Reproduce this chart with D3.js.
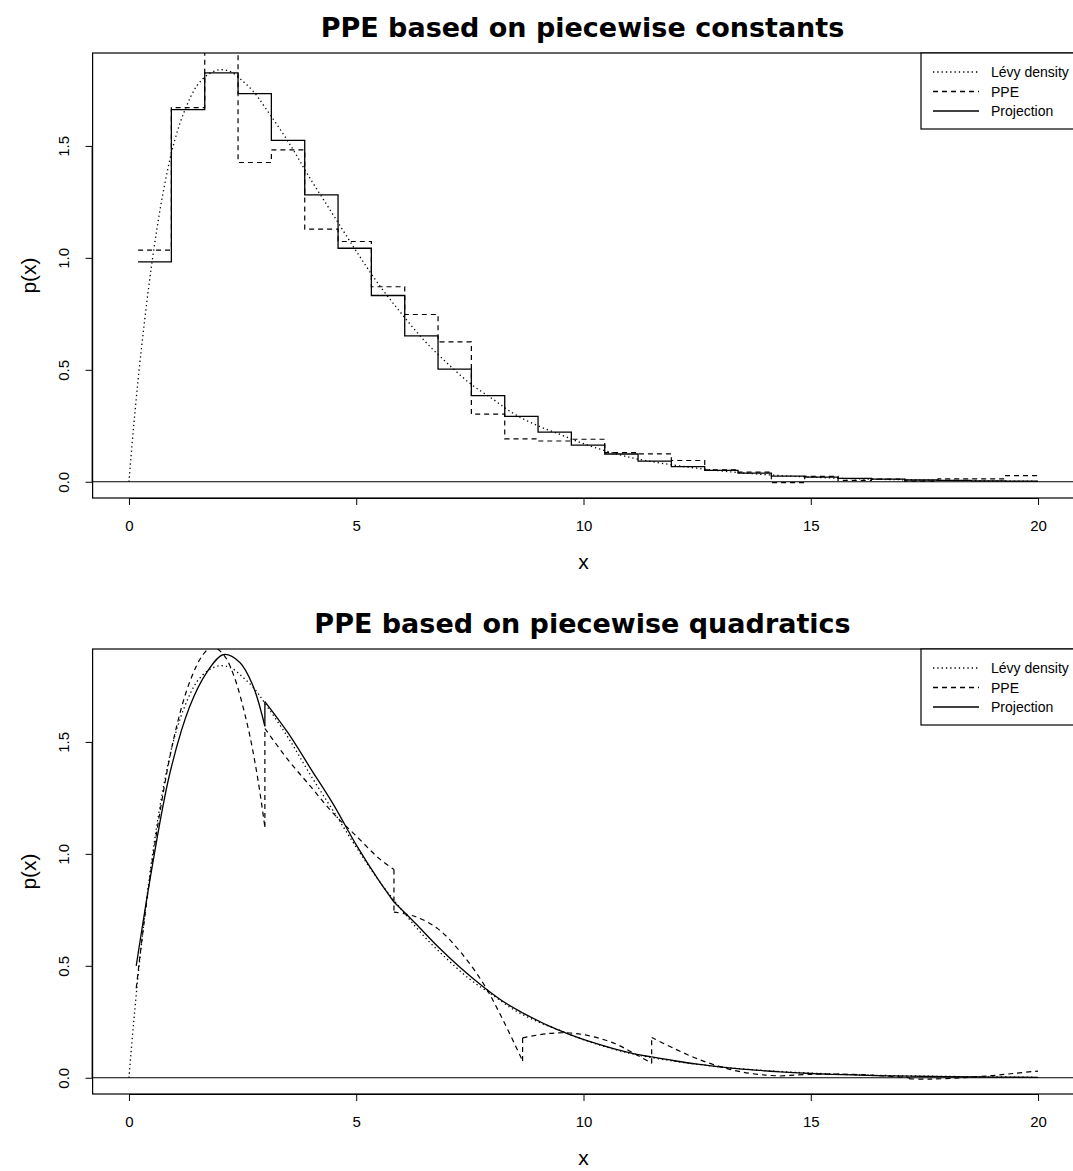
<!DOCTYPE html>
<html><head><meta charset="utf-8">
<script src="https://cdn.jsdelivr.net/npm/d3@7"></script>
<style>body{margin:0;background:#fff}svg{display:block}</style>
</head><body>
<script>
// ---------- data ----------
const xTicks = [0, 5, 10, 15, 20];
const yTicks = [0, 0.5, 1.0, 1.5];
const yTickLabels = ["0.0", "0.5", "1.0", "1.5"];
const legendLabels = ["Lévy density", "PPE", "Projection"];
const titles = ["PPE based on piecewise constants", "PPE based on piecewise quadratics"];

// Lévy density (dotted)
const levyX = [0, 0.1, 0.25, 0.5, 0.75, 1, 1.25, 1.5, 1.75, 2, 2.25, 2.5, 2.75, 3, 3.5, 4, 4.5, 5, 5.5, 6, 6.5, 7, 7.5, 8, 8.5, 9, 9.5, 10, 11, 12, 13, 14, 15, 16, 17, 18, 19, 20];
const levyY = [0, 0.24, 0.55, 0.97, 1.29, 1.52, 1.67, 1.77, 1.82, 1.84, 1.83, 1.79, 1.74, 1.67, 1.52, 1.35, 1.19, 1.03, 0.88, 0.75, 0.63, 0.53, 0.44, 0.37, 0.30, 0.25, 0.21, 0.17, 0.11, 0.074, 0.049, 0.032, 0.021, 0.013, 0.009, 0.006, 0.004, 0.002];

// piecewise constants (top panel)
const binEdges = [0.2, 0.933, 1.667, 2.4, 3.133, 3.867, 4.6, 5.333, 6.067, 6.8, 7.533, 8.267, 9.0, 9.733, 10.467, 11.2, 11.933, 12.667, 13.4, 14.133, 14.867, 15.6, 16.333, 17.067, 17.8, 18.533, 19.267, 20];
const constProjection = [0.982, 1.662, 1.826, 1.734, 1.525, 1.281, 1.043, 0.832, 0.652, 0.503, 0.385, 0.292, 0.222, 0.164, 0.124, 0.092, 0.068, 0.051, 0.039, 0.025, 0.021, 0.015, 0.012, 0.008, 0.006, 0.004, 0.003];
const constPPE = [1.035, 1.671, 1.97, 1.426, 1.482, 1.128, 1.073, 0.871, 0.747, 0.625, 0.302, 0.192, 0.182, 0.19, 0.13, 0.125, 0.095, 0.053, 0.043, -0.004, 0.024, 0.006, 0.012, 0.003, 0.013, 0.013, 0.027];

// piecewise quadratics (bottom panel), one array per piece
const quadProjX = [
  [0.16, 0.5, 0.9, 1.34, 1.71, 2.08, 2.44, 2.73, 2.99],
  [2.99, 3.5, 4.0, 4.5, 5.0, 5.5, 5.83],
  [5.83, 6.3, 6.8, 7.3, 7.8, 8.2, 8.66],
  [8.66, 9.2, 9.7, 10.2, 10.7, 11.1, 11.5],
  [11.5, 12.0, 12.5, 13.0, 13.5, 14.0, 14.33],
  [14.33, 15.0, 15.7, 16.4, 17.17],
  [17.17, 18.0, 19.0, 20.0]
];
const quadProjY = [
  [0.5, 0.93, 1.36, 1.66, 1.81, 1.89, 1.855, 1.75, 1.57],
  [1.68, 1.54, 1.38, 1.22, 1.04, 0.88, 0.785],
  [0.785, 0.69, 0.585, 0.49, 0.405, 0.345, 0.29],
  [0.29, 0.235, 0.193, 0.158, 0.128, 0.108, 0.093],
  [0.093, 0.076, 0.061, 0.049, 0.039, 0.031, 0.026],
  [0.026, 0.019, 0.014, 0.010, 0.007],
  [0.007, 0.005, 0.003, 0.002]
];
const quadPPEX = [
  [0.16, 0.5, 0.98, 1.34, 1.63, 1.83, 2.08, 2.3, 2.59, 2.81, 2.99],
  [2.99, 3.5, 4.0, 4.5, 5.0, 5.5, 5.83],
  [5.83, 6.3, 6.8, 7.3, 7.8, 8.2, 8.66],
  [8.66, 9.2, 9.7, 10.2, 10.7, 11.1, 11.5],
  [11.5, 12.0, 12.5, 13.0, 13.5, 14.0, 14.33],
  [14.33, 15.0, 15.7, 16.4, 17.17],
  [17.17, 17.6, 18.3, 19.0, 19.5, 20.0]
];
const quadPPEY = [
  [0.4, 0.95, 1.51, 1.77, 1.89, 1.925, 1.89, 1.80, 1.59, 1.365, 1.12],
  [1.56, 1.42, 1.30, 1.18, 1.08, 0.98, 0.93],
  [0.74, 0.72, 0.665, 0.56, 0.42, 0.27, 0.075],
  [0.178, 0.197, 0.2, 0.184, 0.152, 0.11, 0.065],
  [0.18, 0.13, 0.085, 0.05, 0.025, 0.012, 0.008],
  [0.008, 0.015, 0.016, 0.011, 0.0],
  [-0.005, -0.006, 0.0, 0.01, 0.02, 0.03]
];

// ---------- layout ----------
const W = 1073, H = 1171;
const FONT = "'Liberation Sans', Arial, Helvetica, sans-serif";
const DASH = "5,4", DOT = "1.3,3";
const svg = d3.select("body").append("svg").attr("width", W).attr("height", H);
svg.append("rect").attr("width", W).attr("height", H).attr("fill", "#fff");

const x = d3.scaleLinear().domain([-0.8, 20.8]).range([92.6, 1074.4]);
const panelTops = [53, 649];
const boxH = 445;

function drawPanel(p) {
  const top = panelTops[p], bottom = top + boxH;
  const y = d3.scaleLinear().domain([-0.0725, 1.915]).range([bottom, top]);
  const g = svg.append("g");
  const clipId = "clip" + p;
  svg.append("clipPath").attr("id", clipId).append("rect")
    .attr("x", x.range()[0]).attr("y", top).attr("width", x.range()[1] - x.range()[0]).attr("height", boxH);

  // title
  g.append("text").attr("x", (x.range()[0] + x.range()[1]) / 2 - 1).attr("y", top - 16)
    .attr("text-anchor", "middle").attr("font-family", "'DejaVu Sans', sans-serif")
    .attr("font-weight", "bold").attr("font-size", 27).text(titles[p]);

  // x axis
  const xa = g.append("g").attr("transform", `translate(0,${bottom})`)
    .call(d3.axisBottom(x).tickValues(xTicks).tickSize(7).tickSizeOuter(0).tickPadding(15).tickFormat(d3.format("d")));
  xa.select(".domain").attr("d", `M${x(0)},0.5H${x(20)}`).attr("stroke", "#000");
  xa.selectAll("text").attr("font-family", FONT).attr("font-size", 15).attr("fill", "#000");
  xa.selectAll("line").attr("stroke", "#000");

  // y axis
  const ya = g.append("g").attr("transform", `translate(${x.range()[0]},0)`)
    .call(d3.axisLeft(y).tickValues(yTicks).tickSize(7).tickSizeOuter(0).tickFormat((d, i) => yTickLabels[i]));
  ya.select(".domain").attr("d", `M-0.5,${y(0)}V${y(1.5)}`).attr("stroke", "#000");
  ya.selectAll("line").attr("stroke", "#000");
  ya.selectAll("text").attr("font-family", FONT).attr("font-size", 15).attr("fill", "#000")
    .attr("text-anchor", "middle").attr("dy", null)
    .attr("x", null)
    .attr("transform", d => `translate(-24,0) rotate(-90)`)
    .attr("y", 0);

  // axis titles
  g.append("text").attr("x", (x(0) + x(20)) / 2).attr("y", bottom + 71).attr("text-anchor", "middle")
    .attr("font-family", FONT).attr("font-size", 21).text("x");
  g.append("text").attr("transform", `translate(36,${top + boxH / 2}) rotate(-90)`).attr("text-anchor", "middle")
    .attr("font-family", FONT).attr("font-size", 21).text("p(x)");

  // box
  g.append("rect").attr("x", x.range()[0]).attr("y", top).attr("width", x.range()[1] - x.range()[0]).attr("height", boxH)
    .attr("fill", "none").attr("stroke", "#000").attr("stroke-width", 1.2);

  const plot = g.append("g").attr("clip-path", `url(#${clipId})`);
  // zero line
  plot.append("line").attr("x1", x.range()[0]).attr("x2", x.range()[1]).attr("y1", y(0)).attr("y2", y(0))
    .attr("stroke", "#000").attr("stroke-width", 1.2);

  // Lévy density
  const levy = levyX.map((v, i) => [v, levyY[i]]);
  plot.append("path").attr("d", d3.line().x(d => x(d[0])).y(d => y(d[1])).curve(d3.curveCatmullRom)(levy))
    .attr("fill", "none").attr("stroke", "#000").attr("stroke-width", 1.3).attr("stroke-dasharray", DOT);

  if (p === 0) {
    const stepLine = d3.line().x(d => x(d[0])).y(d => y(d[1])).curve(d3.curveStepAfter);
    const ppe = constPPE.map((v, i) => [binEdges[i], v]).concat([[binEdges[binEdges.length - 1], constPPE[constPPE.length - 1]]]);
    const proj = constProjection.map((v, i) => [binEdges[i], v]).concat([[binEdges[binEdges.length - 1], constProjection[constProjection.length - 1]]]);
    plot.append("path").attr("d", stepLine(ppe)).attr("fill", "none").attr("stroke", "#000")
      .attr("stroke-width", 1.2).attr("stroke-dasharray", DASH);
    plot.append("path").attr("d", stepLine(proj)).attr("fill", "none").attr("stroke", "#000").attr("stroke-width", 1.3);
  } else {
    const curve = d3.line().x(d => x(d[0])).y(d => y(d[1])).curve(d3.curveCatmullRom);
    function pieces(X, Y, dash) {
      X.forEach((xs, k) => {
        const pts = xs.map((v, i) => [v, Y[k][i]]);
        const pa = plot.append("path").attr("d", curve(pts)).attr("fill", "none").attr("stroke", "#000")
          .attr("stroke-width", dash ? 1.2 : 1.3);
        if (dash) pa.attr("stroke-dasharray", dash);
        if (k < X.length - 1) {
          const a = pts[pts.length - 1], b = [X[k + 1][0], Y[k + 1][0]];
          const ln = plot.append("path").attr("d", d3.line().x(d => x(d[0])).y(d => y(d[1]))([a, b]))
            .attr("fill", "none").attr("stroke", "#000").attr("stroke-width", dash ? 1.2 : 1.3);
          if (dash) ln.attr("stroke-dasharray", dash);
        }
      });
    }
    pieces(quadPPEX, quadPPEY, DASH);
    pieces(quadProjX, quadProjY, null);
  }

  // legend
  const lg = g.append("g").attr("transform", `translate(921,${top})`);
  lg.append("rect").attr("x", 0).attr("y", 0).attr("width", x.range()[1] - 921).attr("height", 76)
    .attr("fill", "#fff").attr("stroke", "#000").attr("stroke-width", 1.2);
  const styles = [DOT, DASH, null];
  legendLabels.forEach((lab, i) => {
    const yy = 19 + i * 19.5;
    const l = lg.append("line").attr("x1", 12).attr("x2", 58).attr("y1", yy).attr("y2", yy)
      .attr("stroke", "#000").attr("stroke-width", 1.3);
    if (styles[i]) l.attr("stroke-dasharray", styles[i]);
    lg.append("text").attr("x", 70).attr("y", yy + 5).attr("font-family", FONT).attr("font-size", 14).text(lab);
  });
}
drawPanel(0);
drawPanel(1);
</script>
</body></html>
